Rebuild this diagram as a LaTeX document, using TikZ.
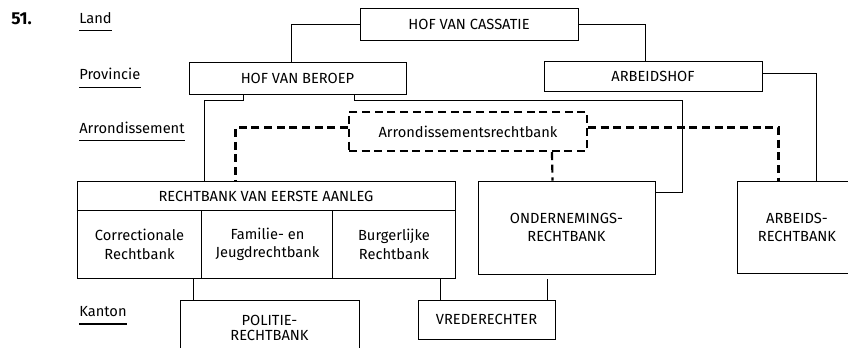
\documentclass[tikz,border=0pt]{standalone}
\usepackage{fontspec}
\setmainfont{Fira Sans}
\usetikzlibrary{calc}
\begin{document}
\begin{tikzpicture}[x=0.75pt,y=-0.75pt,
  box/.style={draw, line width=0.7pt, inner sep=0pt, align=center, font=\fontsize{11}{14}\selectfont},
  txt/.style={inner sep=0pt, align=center, font=\fontsize{11}{14}\selectfont},
  lvl/.style={inner sep=0pt, anchor=base west, font=\fontsize{11}{13}\selectfont},
  conn/.style={draw, line width=0.7pt},
  dsh/.style={draw, line width=1.6pt, dash pattern=on 6pt off 3.5pt},
  uline/.style={draw, line width=0.8pt}]
\clip (0,0) rectangle (848,348);
\fill[white] (0,0) rectangle (848,348);
% number
\node[inner sep=0pt, anchor=base west, font=\fontsize{13}{15}\bfseries] (num) at (11,25) {51.};
% level labels
\node[lvl] (lland) at (79,23.3) {Land};
\node[lvl] (lprov) at (79,80) {Provincie};
\node[lvl] (larr) at (79,133.5) {Arrondissement};
\node[lvl] (lkan) at (79,316.7) {Kanton};
\foreach \n in {lland,lprov,larr,lkan}{
  \draw[uline] ($(\n.base west)+(0,7.3)$) -- ($(\n.base east)+(0,7.3)$);
}
% boxes
\node[box, minimum width={218*0.75pt}, minimum height={32*0.75pt}] (cass) at (469,24) {HOF VAN CASSATIE};
\node[box, minimum width={217*0.75pt}, minimum height={32*0.75pt}] (beroep) at (297.5,78) {HOF VAN BEROEP};
\node[box, minimum width={218*0.75pt}, minimum height={30*0.75pt}] (ahof) at (653,76.5) {ARBEIDSHOF};
\node[box, dsh, minimum width={238*0.75pt}, minimum height={39*0.75pt}] (arr) at (468,131.5) {Arrondissementsrechtbank};
\node[box, minimum width={378*0.75pt}, minimum height={97*0.75pt}] (rea) at (266,229.5) {};
\draw[conn] ($(rea.north west)+(0,30)$) -- ($(rea.north east)+(0,30)$);
\draw[conn] ($(rea.south west)+(125,0)$) -- ($(rea.north west)+(125,30)$);
\draw[conn] ($(rea.south west)+(256,0)$) -- ($(rea.north west)+(256,30)$);
\node[txt] (reah) at (266,196) {RECHTBANK VAN EERSTE AANLEG};
\node[txt] (corr) at (139.5,244.5) {Correctionale\\Rechtbank};
\node[txt] (fam) at (267.5,244.5) {Familie- en\\Jeugdrechtbank};
\node[txt] (burg) at (394,244.5) {Burgerlijke\\Rechtbank};
\node[box, minimum width={177*0.75pt}, minimum height={93*0.75pt}] (ond) at (566.5,227.5) {ONDERNEMINGS-\\RECHTBANK};
\node[box, minimum width={120*0.75pt}, minimum height={92*0.75pt}] (arbr) at (797,227.5) {ARBEIDS-\\RECHTBANK};
\node[box, font=\fontsize{11}{11.5}\selectfont, minimum width={179*0.75pt}, minimum height={56*0.75pt}] (pol) at (269.5,328) {POLITIE-\\RECHTBANK};
\node[box, minimum width={137*0.75pt}, minimum height={39*0.75pt}] (vred) at (486.5,319.5) {VREDERECHTER};
% solid connectors
\draw[conn] (cass.west) -| ($(beroep.north west)+(103,0)$);
\draw[conn] (cass.east) -| ($(ahof.north west)+(102,0)$);
\draw[conn] ($(beroep.south west)+(55,0)$) -- ++(0,6) -| ($(rea.north west)+(128,0)$);
\draw[conn] ($(beroep.south west)+(166,0)$) -- ++(0,6) -| ($(ond.north east)+(27,12)$) -- ($(ond.north east)+(0,12)$);
\draw[conn] ($(ahof.east)+(0,-3)$) -| ($(arbr.north west)+(80,0)$);
\draw[conn] ($(rea.south west)+(117,0)$) -- ($(pol.north west)+(14,0)$);
\draw[conn] ($(rea.south west)+(364,0)$) -- ($(vred.north west)+(23,0)$);
\draw[conn] ($(ond.south west)+(70,5)$) -- ($(vred.north west)+(130,0)$);
% dashed connectors
\draw[dsh] ($(arr.west)+(0,-4)$) -| ($(rea.north west)+(159,0)$);
\draw[dsh] ($(arr.east)+(0,-4)$) -| ($(arbr.north west)+(42,0)$);
\draw[dsh] ($(arr.south west)+(204,0)$) -- ($(ond.north west)+(75,0)$);
\end{tikzpicture}
\end{document}
